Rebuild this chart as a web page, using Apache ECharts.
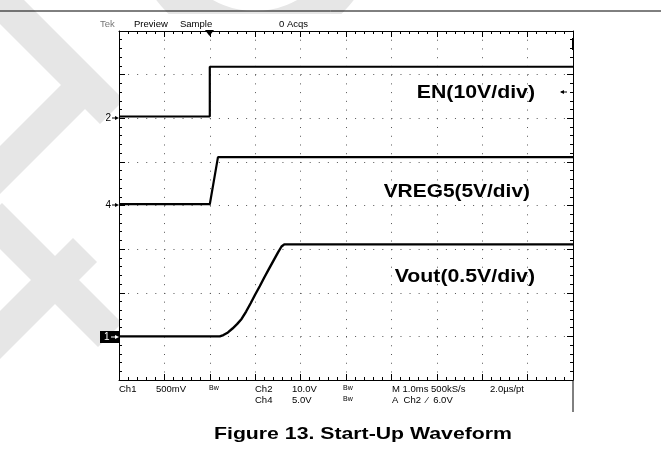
<!DOCTYPE html>
<html>
<head>
<meta charset="utf-8">
<script src="https://cdn.jsdelivr.net/npm/echarts@6/dist/echarts.min.js"></script>
<style>
  html, body { margin: 0; padding: 0; background: #fff; }
  #chart { width: 661px; height: 454px; }
</style>
</head>
<body>
<div id="chart"></div>
<script>
// time in ms (trigger at 0), level in scope divisions (0 = bottom of screen)
const enTime = [-2, 0, 0, 8];
const enDiv = [6.04, 6.04, 7.18, 7.18];
const vregTime = [-2, 0, 0.18, 8];
const vregDiv = [4.03, 4.03, 5.11, 5.11];
const voutTime = [-2, 0.22, 0.3, 0.4, 0.5, 0.6, 0.7, 0.8, 0.9, 1.0, 1.1, 1.2, 1.3, 1.4, 1.5, 1.58, 1.64, 8];
const voutDiv = [1.0, 1.0, 1.03, 1.09, 1.18, 1.28, 1.4, 1.57, 1.76, 1.96, 2.15, 2.35, 2.54, 2.73, 2.92, 3.06, 3.11, 3.11];

const timeTicks = { min: -2, max: 8, interval: 1 };
const divTicks = { min: 0, max: 8, interval: 1 };

const toPairs = (xs, ys) => xs.map((x, i) => [x, ys[i]]);

const chart = echarts.init(document.getElementById('chart'));

const L = 119, T = 31, R = 573, B = 380;

// 示波器邊框刻度
const frameAxis = (extra) => Object.assign({
    type: 'value',
    axisLabel: { show: false },
    axisLine: { show: true, onZero: false, lineStyle: { color: '#000', width: 1 } },
    axisTick: { show: true, inside: true, length: 6, lineStyle: { color: '#000' } },
    minorTick: { show: true, splitNumber: 5, length: 3, lineStyle: { color: '#000' } },
    splitLine: { show: false }
}, extra);

const smallFont = '9.5px "Liberation Sans", Arial, sans-serif';
const txt = (x, y, text, opt = {}) => ({
    type: 'text', x: x, y: y, z: 100,
    scaleX: opt.sx || 1,
    style: {
        text: text,
        font: opt.font || smallFont,
        fill: opt.fill || '#000',
        textAlign: opt.align || 'left',
        textVerticalAlign: 'middle'
    }
});

const chMarker = (y, label) => [
    txt(111, y, label, { align: 'right', font: '10px "Liberation Sans", Arial, sans-serif' }),
    { type: 'line', z: 100, shape: { x1: 112, y1: y, x2: 117, y2: y }, style: { stroke: '#000', lineWidth: 1 } },
    { type: 'polygon', z: 100, shape: { points: [[115, y - 2], [119, y], [115, y + 2]] }, style: { fill: '#000' } }
];

// 浮水印 (淺灰斜帶)
const wmColor = '#e6e6e6';
const band = (x1, y1, x2, y2, w) => ({
    type: 'line', z: -10, silent: true,
    shape: { x1: x1, y1: y1, x2: x2, y2: y2 },
    style: { stroke: wmColor, lineWidth: w }
});

const bigFont = 'bold 19px "Liberation Sans", Arial, sans-serif';

const option = {
    animation: false,
    backgroundColor: '#fff',
    grid: { left: L, top: T, right: 661 - R, bottom: 454 - B },
    xAxis: [
        frameAxis(Object.assign({ position: 'bottom',
            splitLine: { show: true, lineStyle: { color: '#555', width: 1, type: [1, 7.73] } } }, timeTicks)),
        frameAxis(Object.assign({ position: 'top' }, timeTicks))
    ],
    yAxis: [
        frameAxis(Object.assign({ position: 'left',
            splitLine: { show: true, lineStyle: { color: '#555', width: 1, type: [1, 8.08] } } }, divTicks)),
        frameAxis(Object.assign({ position: 'right' }, divTicks))
    ],
    series: [
        { name: 'EN', type: 'line', data: toPairs(enTime, enDiv), showSymbol: false,
          lineStyle: { color: '#000', width: 2.2 }, z: 10 },
        { name: 'VREG5', type: 'line', data: toPairs(vregTime, vregDiv), showSymbol: false,
          lineStyle: { color: '#000', width: 2.2 }, z: 10 },
        { name: 'Vout', type: 'line', data: toPairs(voutTime, voutDiv), showSymbol: false,
          lineStyle: { color: '#000', width: 2.4 }, z: 10 }
    ],
    graphic: [
        band(-10, -10, 112, 112, 34),
        band(-20, 190, 95, 75, 34),
        band(-10, 215, 110, 335, 34),
        band(-20, 355, 85, 250, 34),
        { type: 'arc', z: -10, silent: true, shape: { cx: 255, cy: -75, r: 105, startAngle: 0, endAngle: Math.PI },
          style: { stroke: wmColor, lineWidth: 38, fill: null } },
        // 示波器畫面蓋住浮水印
        { type: 'rect', z: -5, silent: true, shape: { x: 119, y: 14, width: 542, height: 440 }, style: { fill: '#fff' } },
        // 上方橫線
        { type: 'line', shape: { x1: 0, y1: 11, x2: 661, y2: 11 }, style: { stroke: '#000', lineWidth: 1 } },
        // 右邊框向下延伸
        { type: 'line', shape: { x1: R, y1: B, x2: R, y2: 412 }, style: { stroke: '#000', lineWidth: 1 } },
        { type: 'rect', z: 100, shape: { x: 572, y: 38, width: 2, height: 12 }, style: { fill: '#000' } },
        // 觸發標記
        { type: 'polygon', z: 100, shape: { points: [[205, 30], [214, 30], [209.5, 36]] }, style: { fill: '#000' } },
        { type: 'line', z: 100, shape: { x1: 561, y1: 92, x2: 567, y2: 92 }, style: { stroke: '#000', lineWidth: 1 } },
        { type: 'polygon', z: 100, shape: { points: [[564, 90], [560, 92], [564, 94]] }, style: { fill: '#000' } },
        txt(100, 24, 'Tek', { fill: '#777' }),
        txt(134, 24, 'Preview'),
        txt(180, 24, 'Sample'),
        txt(279, 24, '0 Acqs'),
        ...chMarker(118, '2'),
        ...chMarker(205, '4'),
        { type: 'rect', z: 100, shape: { x: 100, y: 331, width: 19, height: 12 }, style: { fill: '#000' } },
        txt(104, 337, '1', { fill: '#fff', font: '10px "Liberation Sans", Arial, sans-serif' }),
        { type: 'line', z: 101, shape: { x1: 111, y1: 337, x2: 117, y2: 337 }, style: { stroke: '#fff', lineWidth: 1 } },
        { type: 'polygon', z: 101, shape: { points: [[115, 335], [119, 337], [115, 339]] }, style: { fill: '#fff' } },
        txt(119, 389, 'Ch1'),
        txt(156, 389, '500mV'),
        txt(209, 388, 'Bw', { font: '7px "Liberation Sans", Arial, sans-serif' }),
        txt(255, 389, 'Ch2'),
        txt(292, 389, '10.0V'),
        txt(343, 388, 'Bw', { font: '7px "Liberation Sans", Arial, sans-serif' }),
        txt(255, 400, 'Ch4'),
        txt(292, 400, '5.0V'),
        txt(343, 399, 'Bw', { font: '7px "Liberation Sans", Arial, sans-serif' }),
        txt(392, 389, 'M 1.0ms 500kS/s'),
        txt(392, 400, 'A  Ch2  \u2044  6.0V'),
        txt(490, 389, '2.0\u00b5s/pt'),
        txt(535, 93, 'EN(10V/div)', { font: bigFont, align: 'right', sx: 1.12 }),
        txt(530, 192, 'VREG5(5V/div)', { font: bigFont, align: 'right', sx: 1.1 }),
        txt(535, 277, 'Vout(0.5V/div)', { font: bigFont, align: 'right', sx: 1.12 }),
        txt(214, 434, 'Figure 13. Start-Up Waveform', { font: 'bold 17px "Liberation Sans", Arial, sans-serif', sx: 1.25 })
    ]
};

chart.setOption(option);
</script>
</body>
</html>
